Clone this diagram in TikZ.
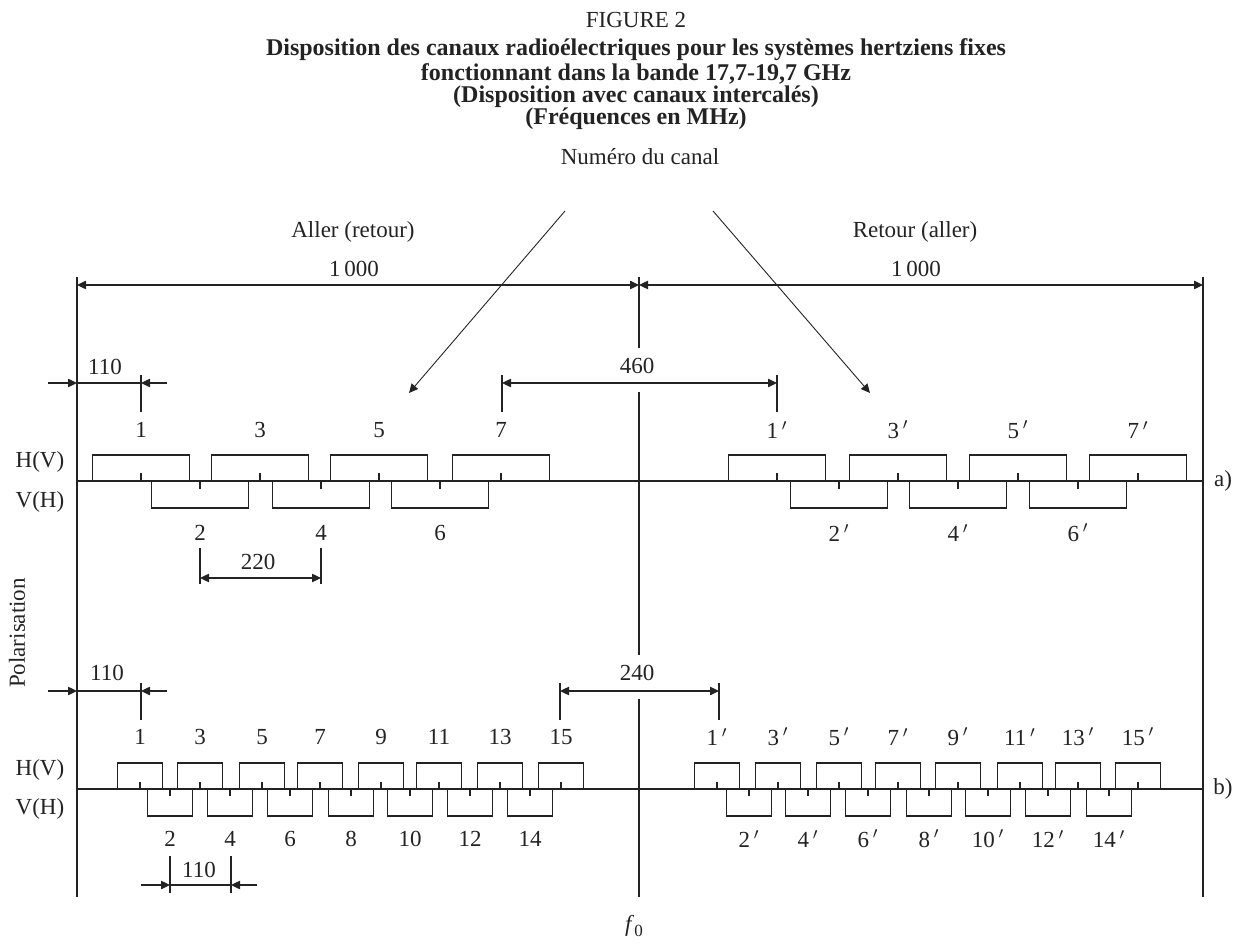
\documentclass[tikz,border=0pt]{standalone}
\usepackage{fontspec}
\setmainfont{Liberation Serif}
\usetikzlibrary{arrows.meta}
\definecolor{ink}{RGB}{35,35,35}
\newcommand\chp{\,$'$}
\begin{document}
\begin{tikzpicture}[x=0.5pt,y=-0.5pt,color=ink,line width=0.55pt,
  lbl/.style={inner sep=0pt,font=\fontsize{11.5}{13}\selectfont},
  ttl/.style={inner sep=0pt,font=\fontsize{12}{13}\selectfont\bfseries},
  dimarrow/.style={{Triangle[length=4.5pt,width=4.2pt]}-{Triangle[length=4.5pt,width=4.2pt]}},
  onetip/.style={-{Triangle[length=4.5pt,width=4.2pt]}}]
\useasboundingbox (0,0) rectangle (1240,945);

% ---- titles
\node[lbl] (fig) at (636,20) {FIGURE 2};
\node[ttl] (t1) at (636,50) {Disposition des canaux radioélectriques pour les systèmes hertziens fixes};
\node[ttl] (t2) at (636,74) {fonctionnant dans la bande 17,7-19,7 GHz};
\node[ttl] (t3) at (636,97) {(Disposition avec canaux intercalés)};
\node[ttl] (t4) at (636,119) {(Fréquences en MHz)};
\node[lbl] (num) at (640,157) {Numéro du canal};
\node[lbl] (aller) at (353,232) {Aller (retour)};
\node[lbl] (retour) at (915,232) {Retour (aller)};
\node[lbl] (kl) at (354,269) {1\,000};
\node[lbl] (kr) at (916,269) {1\,000};

% ---- frame lines
\coordinate (Ltop) at (77,277);  \coordinate (Lbot) at (77,897);
\coordinate (Rtop) at (1203,277); \coordinate (Rbot) at (1203,897);
\coordinate (Ctop) at (639,277); \coordinate (Cbot) at (639,897);
\draw (Ltop) -- (Lbot);
\draw (Rtop) -- (Rbot);
\draw (Ctop) -- (639,348);
\draw (639,392) -- (639,655);
\draw (639,699) -- (Cbot);

% ---- 1000 dimension arrows
\coordinate (dL) at (77,285); \coordinate (dC) at (639,285); \coordinate (dR) at (1203,285);
\draw[dimarrow] (dL) -- (dC);
\draw[dimarrow] (dC) -- (dR);

% ---- channel-number arrows
\coordinate (nl0) at (565,211); \coordinate (nl1) at (409,393);
\coordinate (nr0) at (713,211); \coordinate (nr1) at (870,393);
\draw[onetip,line width=0.45pt] (nl0) -- (nl1);
\draw[onetip,line width=0.45pt] (nr0) -- (nr1);

% ---- a) axis and boxes
\coordinate (axa0) at (77,481); \coordinate (axa1) at (1203,481);
\draw (axa0) -- (axa1);
\foreach \cx in {141,260,379,501,777,898,1018,1138}{
  \draw (\cx-48.5,481) -- (\cx-48.5,455) -- (\cx+48.5,455) -- (\cx+48.5,481);
  \draw (\cx,481) -- (\cx,473);
}
\foreach \cx in {200,321,440,839,958,1078}{
  \draw (\cx-48.5,481) -- (\cx-48.5,508) -- (\cx+48.5,508) -- (\cx+48.5,481);
  \draw (\cx,481) -- (\cx,489);
}
\foreach \cx/\t in {141/1,260/3,379/5,501/7,777/1\chp,898/3\chp,1018/5\chp,1138/7\chp}{
  \node[lbl] (ua\cx) at (\cx,430) {\t};
}
\foreach \cx/\t in {200/2,321/4,440/6,839/2\chp,958/4\chp,1078/6\chp}{
  \node[lbl] (la\cx) at (\cx,533) {\t};
}
\node[lbl] (hva) at (40,462) {H(V)};
\node[lbl] (vha) at (40,502) {V(H)};
\node[lbl] (a) at (1223,481) {a)};

% 110 (a)
\coordinate (a110t) at (141,375); \coordinate (a110b) at (141,412);
\draw (a110t) -- (a110b);
\coordinate (a110l) at (48,383); \coordinate (a110r) at (167,383);
\draw[onetip] (a110l) -- (77,383);
\draw[onetip] (a110r) -- (141,383);
\draw (77,383) -- (141,383);
\node[lbl] (l110a) at (105,367) {110};
% 460
\draw (502,375) -- (502,412);
\draw (777,375) -- (777,412);
\coordinate (d460l) at (502,383); \coordinate (d460r) at (777,383);
\draw[dimarrow] (d460l) -- (d460r);
\node[lbl] (l460) at (637,366) {460};
% 220
\draw (200,548) -- (200,584);
\draw (321,548) -- (321,584);
\coordinate (d220l) at (200,578); \coordinate (d220r) at (321,578);
\draw[dimarrow] (d220l) -- (d220r);
\node[lbl] (l220) at (258,562) {220};

% ---- b) axis and boxes
\coordinate (axb0) at (77,789); \coordinate (axb1) at (1203,789);
\draw (axb0) -- (axb1);
\foreach \cx in {140,200,262,320,381,439,500,561,717,778,839,898,958,1020,1078,1138}{
  \draw (\cx-22.5,789) -- (\cx-22.5,763) -- (\cx+22.5,763) -- (\cx+22.5,789);
  \draw (\cx,789) -- (\cx,782);
}
\foreach \cx in {170,230,290,351,410,470,530,749,808,868,929,988,1048,1109}{
  \draw (\cx-22.5,789) -- (\cx-22.5,816) -- (\cx+22.5,816) -- (\cx+22.5,789);
  \draw (\cx,789) -- (\cx,796);
}
\foreach \cx/\t in {140/1,200/3,262/5,320/7,381/9,439/11,500/13,561/15,717/1\chp,778/3\chp,839/5\chp,898/7\chp,958/9\chp,1020/11\chp,1078/13\chp,1138/15\chp}{
  \node[lbl] (ub\cx) at (\cx,737) {\t};
}
\foreach \cx/\t in {170/2,230/4,290/6,351/8,410/10,470/12,530/14,749/2\chp,808/4\chp,868/6\chp,929/8\chp,988/10\chp,1048/12\chp,1109/14\chp}{
  \node[lbl] (lb\cx) at (\cx,839) {\t};
}
\node[lbl] (hvb) at (40,770) {H(V)};
\node[lbl] (vhb) at (40,809) {V(H)};
\node[lbl] (b) at (1223,789) {b)};

% 110 (b top)
\draw (141,683) -- (141,720);
\coordinate (b110l) at (48,691); \coordinate (b110r) at (167,691);
\draw[onetip] (b110l) -- (77,691);
\draw[onetip] (b110r) -- (141,691);
\draw (77,691) -- (141,691);
\node[lbl] (l110b) at (107,673) {110};
% 240
\draw (560,683) -- (560,720);
\draw (719,683) -- (719,720);
\coordinate (d240l) at (560,691); \coordinate (d240r) at (719,691);
\draw[dimarrow] (d240l) -- (d240r);
\node[lbl] (l240) at (637,673) {240};
% 110 (b bottom)
\draw (170,856) -- (170,893);
\draw (231,856) -- (231,893);
\coordinate (c110l) at (141,885); \coordinate (c110r) at (257,885);
\draw[onetip] (c110l) -- (170,885);
\draw[onetip] (c110r) -- (231,885);
\draw (170,885) -- (231,885);
\node[lbl] (l110c) at (199,870) {110};

% ---- side and bottom labels
\node[lbl,rotate=90] (pol) at (17,633) {Polarisation};
\node[lbl] (f0) at (634,926) {\textit{f}\raisebox{-0.45ex}{\fontsize{8.5}{9}\selectfont 0}};
\end{tikzpicture}
\end{document}
